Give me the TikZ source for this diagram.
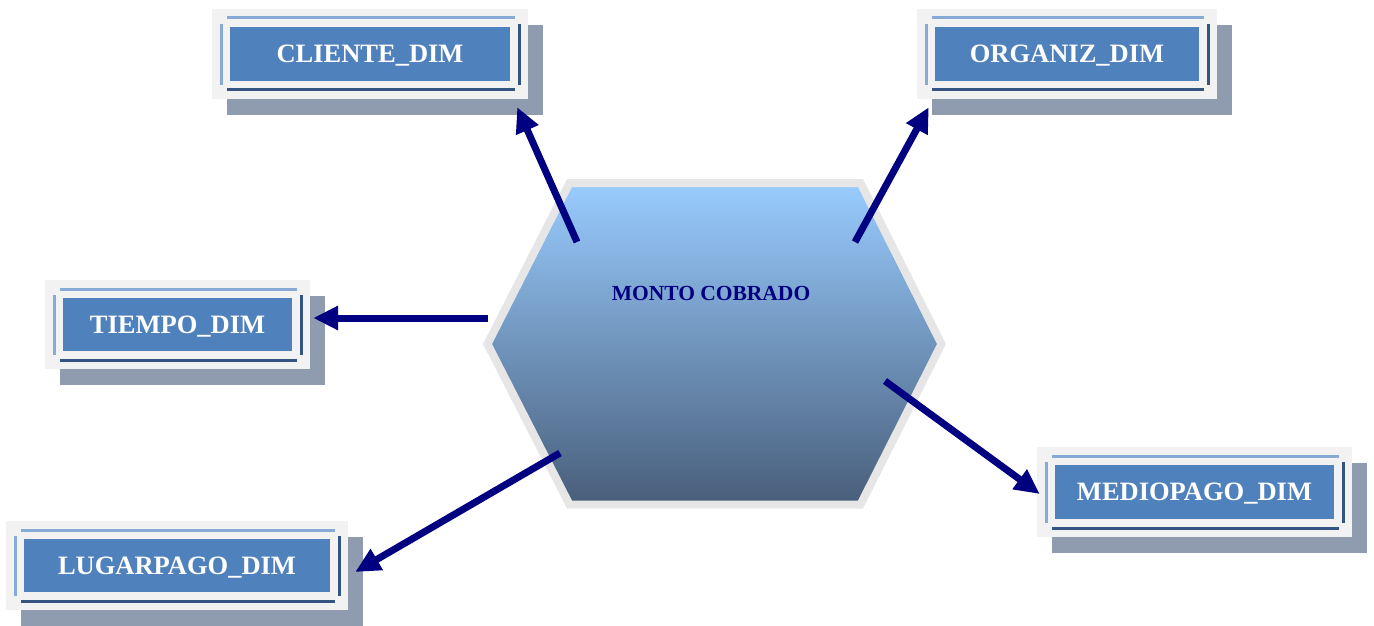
\documentclass[tikz,border=0pt]{standalone}
\usepackage{fontspec}
\setmainfont{Liberation Serif}
\usetikzlibrary{arrows.meta,calc,shadows}

\definecolor{boxgray}{RGB}{242,242,242}
\definecolor{boxblue}{RGB}{79,129,189}
\definecolor{shadowc}{RGB}{143,156,175}
\definecolor{bevellight}{RGB}{135,170,215}
\definecolor{beveldark}{RGB}{52,84,130}
\definecolor{hexedge}{RGB}{230,230,230}
\definecolor{hextop}{RGB}{153,204,255}
\definecolor{hexmid}{RGB}{122,162,203}
\definecolor{hexbot}{RGB}{72,94,122}
\definecolor{arrowc}{RGB}{0,0,128}

\tikzset{
  x=1pt, y=-1pt,
  dimbox/.style={
    fill=boxgray, inner sep=0pt, text=white,
    text height=17.5pt, text depth=0pt,
    font=\fontsize{26.5}{26.5}\selectfont\bfseries,
    drop shadow={shadow xshift=15pt, shadow yshift=-16pt, fill=shadowc, opacity=1},
    path picture={
      \coordinate (pa) at (path picture bounding box.north west);
      \coordinate (pb) at (path picture bounding box.south east);
      % inner blue panel
      \fill[boxblue] ($(pa)+(18,18)$) rectangle ($(pb)+(-18,-18)$);
      % bevelled frame
      \draw[bevellight, line width=3pt] ($(pa)+(15,9)$) -- ($(pb |- pa)+(-13,9)$);
      \draw[bevellight, line width=3pt] ($(pa)+(9,15)$) -- ($(pa |- pb)+(9,-14)$);
      \draw[beveldark, line width=3pt] ($(pa |- pb)+(15,-9)$) -- ($(pb)+(-13,-9)$);
      \draw[beveldark, line width=3pt] ($(pb |- pa)+(-9,15)$) -- ($(pb)+(-9,-14)$);
    }},
  link/.style={arrowc, line width=7pt, -{Triangle[length=25pt, width=23pt]}},
  hublabel/.style={text=arrowc, font=\fontsize{21.5}{21.5}\selectfont\bfseries, inner sep=0pt}
}

\begin{document}
\begin{tikzpicture}
\useasboundingbox (0,0) rectangle (1374,626);

% central fact shape
\path[top color=hextop, middle color=hexmid, bottom color=hexbot,
      draw=hexedge, line width=8pt, line join=miter]
  (569.5,183) -- (860.5,183) -- (941.5,344) -- (860.5,504.5)
  -- (569.5,504.5) -- (487.5,344) -- cycle;
\node[hublabel] (hub) at (711,293) {MONTO COBRADO};

% dimension tables
\node[dimbox, minimum width=316pt, minimum height=90pt] (cliente)   at (370,54)      {CLIENTE\_DIM};
\node[dimbox, minimum width=300pt, minimum height=90pt] (organiz)   at (1067,54)     {ORGANIZ\_DIM};
\node[dimbox, minimum width=265pt, minimum height=89pt] (tiempo)    at (177.5,324.5) {TIEMPO\_DIM};
\node[dimbox, minimum width=315pt, minimum height=90pt] (mediopago) at (1194.5,492)  {MEDIOPAGO\_DIM};
\node[dimbox, minimum width=342pt, minimum height=89pt] (lugarpago) at (177,565.5)   {LUGARPAGO\_DIM};

% arrow ends
\coordinate (cli-from) at (577,242);
\coordinate (cli-to)   at ($(cliente.south east)+(-11,8)$);
\coordinate (org-from) at (855,242);
\coordinate (org-to)   at ($(organiz.south west)+(12,8)$);
\coordinate (tie-from) at (488,318);
\coordinate (tie-to)   at ($(tiempo.east)+(3,-6.5)$);
\coordinate (lug-from) at (560,453);
\coordinate (lug-to)   at ($(lugarpago.east)+(7,6.5)$);
\coordinate (med-from) at (885,381);
\coordinate (med-to)   at ($(mediopago.west)+(3,2)$);

\draw[link] (cli-from) -- (cli-to);
\draw[link] (org-from) -- (org-to);
\draw[link] (tie-from) -- (tie-to);
\draw[link] (lug-from) -- (lug-to);
\draw[link] (med-from) -- (med-to);
\end{tikzpicture}
\end{document}
